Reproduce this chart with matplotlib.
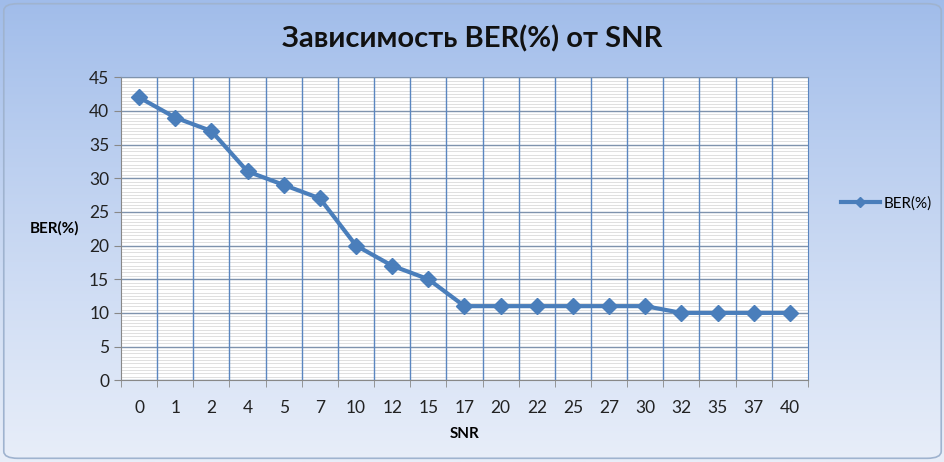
import numpy as np
import matplotlib
matplotlib.use("Agg")
import matplotlib.pyplot as plt
from matplotlib.patches import FancyBboxPatch
from matplotlib.ticker import MultipleLocator, FixedLocator

snr = ["0", "1", "2", "4", "5", "7", "10", "12", "15", "17",
       "20", "22", "25", "27", "30", "32", "35", "37", "40"]
ber = [42, 39, 37, 31, 29, 27, 20, 17, 15, 11,
       11, 11, 11, 11, 11, 10, 10, 10, 10]

plt.rcParams['font.family'] = ['Lato', 'DejaVu Sans']

fig = plt.figure(figsize=(9.45, 4.62), dpi=100)

# gradient background of the chart area
bg = fig.add_axes([0, 0, 1, 1], zorder=-10)
grad = np.linspace(0, 1, 256).reshape(-1, 1)
top = np.array([160, 188, 234]) / 255
bot = np.array([232, 238, 249]) / 255
img = top + (bot - top) * grad[..., None] ** 0.9
bg.imshow(img, aspect="auto", extent=[0, 1, 0, 1])
bg.add_patch(FancyBboxPatch((0.004, 0.008), 0.992, 0.984,
                            boxstyle="round,pad=0,rounding_size=0.015",
                            fill=False, ec="#9fb3cf", lw=1.2))
bg.set_xlim(0, 1)
bg.set_ylim(0, 1)
bg.axis("off")

ax = fig.add_axes([0.128, 0.177, 0.727, 0.656])
ax.set_facecolor("white")
x = np.arange(len(snr))
ax.plot(x, ber, color="#4a7ebb", lw=3, marker="D", ms=8,
        mec="#4a7ebb", mfc="#4a7ebb", label="BER(%)", zorder=5)

ax.set_xlim(-0.5, len(snr) - 0.5)
ax.set_ylim(0, 45)
ax.set_xticks(x)
ax.set_xticklabels(snr)
ax.xaxis.set_minor_locator(FixedLocator(np.arange(-0.5, len(snr), 1)))
ax.yaxis.set_major_locator(MultipleLocator(5))
ax.yaxis.set_minor_locator(MultipleLocator(0.5))

ax.grid(which="minor", axis="y", color="#e0e0e0", lw=0.7)
ax.grid(which="major", axis="y", color="#7f93ad", lw=1.0)
ax.set_axisbelow(True)
# vertical category separators drawn above the fine horizontal lines
for b in np.arange(0.5, len(snr) - 0.5, 1):
    ax.axvline(b, color="#5b86c0", lw=1.0, zorder=1.5)

ax.tick_params(axis="x", which="major", length=0, labelsize=12.5,
               pad=14, colors="#222222")
ax.tick_params(axis="x", which="minor", length=5, color="#888888")
ax.tick_params(axis="y", which="major", length=5, color="#888888",
               labelsize=12.5, colors="#222222")
ax.tick_params(axis="y", which="minor", length=0)
for side in ["left", "bottom"]:
    ax.spines[side].set_color("#888888")
ax.spines["right"].set_color("#5b86c0")
ax.spines["top"].set_color("#7f93ad")

ax.set_xlabel("SNR", fontsize=11, fontweight="bold", labelpad=8)
ax.set_ylabel("BER(%)", fontsize=11, fontweight="bold", rotation=0,
              labelpad=25, va="center")

fig.text(0.5, 0.915, "Зависимость BER(%) от SNR", ha="center",
         va="center", fontsize=21, fontweight="bold", color="#111111")

fig.legend(loc="center left", bbox_to_anchor=(0.875, 0.56), frameon=False,
           fontsize=11, handlelength=2.6, handletextpad=0.2, markerscale=0.7)

fig.savefig("out.png", dpi=100)
plt.close()
